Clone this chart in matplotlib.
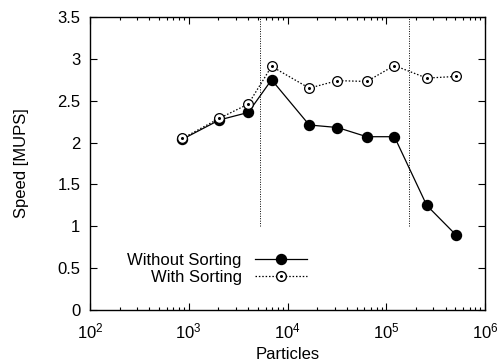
import matplotlib
matplotlib.use("Agg")
import matplotlib.pyplot as plt
from matplotlib.lines import Line2D
from matplotlib.legend_handler import HandlerTuple
from matplotlib.ticker import LogLocator, MultipleLocator, LogFormatterMathtext

plt.rcParams['font.family'] = ['Liberation Sans', 'DejaVu Sans']
plt.rcParams['mathtext.fontset'] = 'custom'
plt.rcParams['mathtext.rm'] = 'Liberation Sans'
plt.rcParams['mathtext.default'] = 'rm'

# data
particles = [864, 2040, 4010, 6900, 16600, 32000, 63400, 121000, 257000, 505000]
without_sorting = [2.04, 2.27, 2.36, 2.75, 2.21, 2.18, 2.07, 2.07, 1.25, 0.90]
with_sorting = [2.05, 2.29, 2.46, 2.91, 2.65, 2.74, 2.73, 2.92, 2.77, 2.79]
markers_x = [5300, 171000]   # vertical reference lines
markers_ylow = 1.0

fig = plt.figure(figsize=(5.01, 3.63), dpi=100)
ax = fig.add_axes([90 / 501, 1 - 310 / 363, 395 / 501, 293 / 363])

for xv in markers_x:
    ax.plot([xv, xv], [markers_ylow, 3.5], color='black', lw=0.7,
            linestyle=(0, (1, 1.5)))

l1, = ax.plot(particles, without_sorting, '-', color='black', lw=0.9,
              marker='o', ms=7.2, mfc='black', mec='black')
l2, = ax.plot(particles, with_sorting, color='black', lw=0.9,
              linestyle=(0, (1.2, 1.5)),
              marker='o', ms=7, mfc='white', mec='black', mew=0.9)
d2, = ax.plot(particles, with_sorting, ls='none', marker='o', ms=1.2,
              color='black')

ax.set_xscale('log')
ax.set_xlim(1e2, 1e6)
ax.set_ylim(0, 3.5)
ax.yaxis.set_major_locator(MultipleLocator(0.5))
ax.yaxis.set_major_formatter(plt.FuncFormatter(lambda v, p: f"{v:g}"))
ax.xaxis.set_major_locator(LogLocator(base=10))
ax.xaxis.set_minor_locator(LogLocator(base=10, subs=range(2, 10)))
ax.xaxis.set_major_formatter(LogFormatterMathtext())

ax.tick_params(which='both', direction='in', top=True, right=True,
               labelsize=12, width=0.8)
ax.tick_params(which='major', length=5)
ax.tick_params(which='minor', length=2.5)
ax.tick_params(axis='y', which='major', pad=7)
ax.tick_params(axis='x', which='major', pad=8)
for s in ax.spines.values():
    s.set_linewidth(1.0)

ax.set_xlabel('Particles', fontsize=12, labelpad=4)
ax.set_ylabel('Speed [MUPS]', fontsize=12, labelpad=20)

h1 = Line2D([], [], color='black', lw=0.9, marker='o', ms=7.2, mfc='black')
h2a = Line2D([], [], color='black', lw=0.9, linestyle=(0, (1.2, 1.5)),
             marker='o', ms=7, mfc='white', mec='black')
h2b = Line2D([], [], ls='none', marker='o', ms=1.2, color='black')
ax.legend([h1, (h2a, h2b)], ['Without Sorting', 'With Sorting'],
          handler_map={tuple: HandlerTuple(ndivide=1)},
          loc='lower left', bbox_to_anchor=(0.065, 0.045), frameon=False,
          markerfirst=False, fontsize=12, handlelength=3.1,
          labelspacing=0.12, handletextpad=0.8, borderpad=0.2)

fig.savefig('out.png', dpi=100)
